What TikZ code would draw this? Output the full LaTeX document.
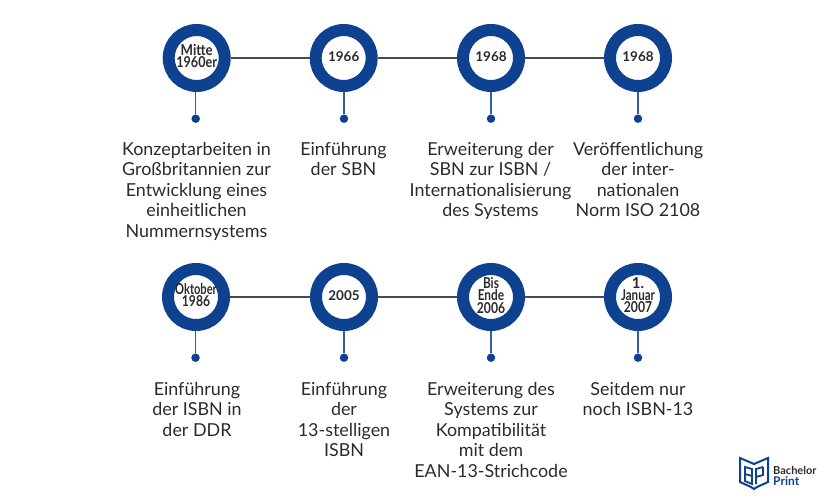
\documentclass[tikz,border=0pt]{standalone}
\usepackage{fontspec}
\setmainfont{Lato}
\definecolor{ringblue}{HTML}{0E418F}
\definecolor{linegray}{HTML}{4A4A4A}
\definecolor{stemblue}{HTML}{2F5FA5}
\definecolor{txt}{HTML}{2B2B2B}
\newcommand{\nrw}[2]{\scalebox{#1}[1]{#2}}
\tikzset{
  ring/.style={circle,draw=ringblue,line width=12pt,fill=white,minimum size=56pt,inner sep=0pt},
  ringtext/.style={inner sep=0pt,align=center,text=txt,font=\fontsize{13.5}{12.2}\selectfont\bfseries},
  ringtextb/.style={ringtext,font=\fontsize{15}{12.2}\selectfont\bfseries},
  dotnode/.style={circle,fill=ringblue,minimum size=8.5pt,inner sep=0pt},
  link/.style={linegray,line width=1.5pt},
  stem/.style={stemblue,line width=1.4pt},
  desc/.style={anchor=north,align=center,inner sep=0pt,text=txt,font=\fontsize{17.9}{20.5}\selectfont},
}
\begin{document}
\begin{tikzpicture}[x=1pt,y=-1pt]
\useasboundingbox (0,0) rectangle (825,500);
\foreach \n/\x/\dx/\y/\st/\t in {
 a/196.7/195.7/58/ringtextb/{\nrw{.88}{Mitte}\\\nrw{.84}{1960er}},
 b/343.7/344/58/ringtext/{1966},
 c/491/491/58/ringtext/{1968},
 d/638/638/58/ringtext/{1968},
 e/196/195.5/297/ringtextb/{\nrw{.74}{Oktober}\\\nrw{.81}{1986}},
 f/344/344/297/ringtext/{2005},
 g/491/491/297/ringtextb/{\nrw{.79}{Bis}\\\nrw{.79}{Ende}\\\nrw{.81}{2006}},
 h/638/638/297/ringtextb/{1.\\\nrw{.77}{Januar}\\\nrw{.81}{2007}}}{
  \node[ring] (\n) at (\x,\y) {};
  \node[\st] (\n t) at (\x,\y-1.7) {\t};
  \node[dotnode] (\n d) at (\dx,\y+60.7) {};
  \draw[stem] (\n d |- \n.south) -- (\n d);
}
\draw[link] (a) -- (b);
\draw[link] (b) -- (c);
\draw[link] (c) -- (d);
\draw[link] (e) -- (f);
\draw[link] (f) -- (g);
\draw[link] (g) -- (h);
\node[desc] (ta) at (196.5,142) {Konzeptarbeiten in\\Großbritannien zur\\Entwicklung eines\\einheitlichen\\Nummernsystems};
\node[desc] (tb) at (343.5,142) {Einführung\\der SBN};
\node[desc] (tc) at (490.5,142) {Erweiterung der\\SBN zur ISBN /\\Internationalisierung\\des Systems};
\node[desc] (td) at (638,142) {Veröffentlichung\\der inter-\\nationalen\\Norm ISO 2108};
\node[desc] (te) at (197,382) {Einführung\\der ISBN in\\der DDR};
\node[desc] (tf) at (344,382) {Einführung\\der\\13-stelligen\\ISBN};
\node[desc] (tg) at (491,382) {Erweiterung des\\Systems zur\\Kompatibilität\\mit dem\\EAN-13-Strichcode};
\node[desc] (th) at (638,382) {Seitdem nur\\noch ISBN-13};
% logo
\draw[ringblue,line width=2pt,line join=miter]
  (740,458) -- (754,464) -- (768,458) -- (768,482) -- (757,487) -- (754,489) -- (751,487) -- (740,482) -- cycle;
\draw[ringblue,line width=1.8pt] (745,467) -- (752,469) -- (752,484) -- (745,481) -- cycle;
\draw[ringblue,line width=1.8pt] (763,467) -- (756,469) -- (756,484);
\draw[ringblue,line width=1.8pt] (745,474) -- (752,476);
\draw[ringblue,line width=1.8pt] (763,467) -- (763,475) -- (756,477);
\node[anchor=base west,inner sep=0pt,font=\fontsize{11}{11}\selectfont\bfseries,text=txt] (lb) at (773,474.5) {Bachelor};
\node[anchor=base west,inner sep=0pt,font=\fontsize{12}{11}\selectfont\bfseries,text=ringblue] (lp) at (773,485.5) {Print};
\end{tikzpicture}
\end{document}
